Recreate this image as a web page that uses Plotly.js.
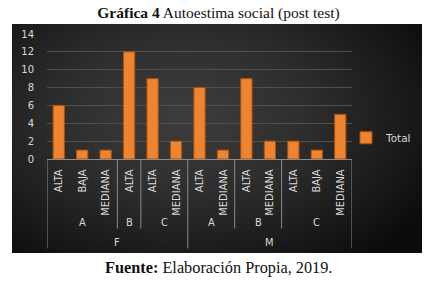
<!DOCTYPE html>
<html><head><meta charset="utf-8">
<script src="https://cdn.plot.ly/plotly-3.0.1.min.js"></script>
<style>
html,body{margin:0;padding:0;background:#fff;}
#wrap{position:relative;width:437px;height:288px;}
#panel{position:absolute;left:12px;top:24px;width:410px;height:229px;
 background:radial-gradient(ellipse 70% 80% at 42% 40%, #3d3d3d 0%, #2f2f2f 40%, #1b1b1b 75%, #0b0b0b 100%);}
#chart{position:absolute;left:0;top:0;width:437px;height:288px;}
</style></head>
<body><div id="wrap"><div id="panel"></div><div id="chart"></div></div>
<script>
const sexo  = ['F','F','F','F','F','F','M','M','M','M','M','M','M'];
const grupo = ['A','A','A','B','C','C','A','A','B','B','C','C','C'];
const nivel = ['ALTA','BAJA','MEDIANA','ALTA','ALTA','MEDIANA','ALTA','MEDIANA','ALTA','MEDIANA','ALTA','BAJA','MEDIANA'];
const total = [6,1,1,12,9,2,8,1,9,2,2,1,5];
const yTicks = [0,2,4,6,8,10,12,14];

const idx = total.map((_,i)=>i);
const txtColor = '#d9d9d9';
const lineColor = '#8a8a8a';
const font = 'Liberation Sans Narrow, DejaVu Sans Condensed, Liberation Sans, sans-serif';

const plotTop = 34, plotBot = 159.3, plotH = plotBot-plotTop;
const py = p => (plotBot - p)/plotH;

function runs(keyFn){
  const out=[]; let s=0;
  for(let i=1;i<=idx.length;i++){
    if(i===idx.length || keyFn(i)!==keyFn(s)){ out.push([s,i-1]); s=i; }
  }
  return out;
}
const g2 = runs(i=>sexo[i]+'|'+grupo[i]);
const g1 = runs(i=>sexo[i]);

const annotations=[], shapes=[];
g2.forEach(([a,b])=>annotations.push({x:(a+b)/2,y:py(223),xref:'x',yref:'paper',text:grupo[a],showarrow:false,font:{family:font,size:11,color:txtColor},yanchor:'middle'}));
g1.forEach(([a,b])=>annotations.push({x:(a+b)/2,y:py(243),xref:'x',yref:'paper',text:sexo[a],showarrow:false,font:{family:font,size:11,color:txtColor},yanchor:'middle'}));
const outerB = new Set([-0.5]); g1.forEach(([a,b])=>outerB.add(b+0.5));
const innerB = new Set(); g2.forEach(([a,b])=>{ if(!outerB.has(b+0.5)) innerB.add(b+0.5); });
outerB.forEach(x=>shapes.push({type:'line',xref:'x',yref:'paper',x0:x,x1:x,y0:0,y1:py(249),line:{color:lineColor,width:1}}));
innerB.forEach(x=>shapes.push({type:'line',xref:'x',yref:'paper',x0:x,x1:x,y0:0,y1:py(229),line:{color:lineColor,width:1}}));

annotations.push({xref:'paper',yref:'paper',x:(218-47)/305,y:py(268),text:'<b>Fuente:</b> Elaboración Propia, 2019.',showarrow:false,yanchor:'middle',xanchor:'center',font:{family:'Liberation Serif, serif',size:16.3,color:'#111'}});

const trace={type:'bar',x:idx,y:total,name:'Total',
  marker:{color:'#ef8430',line:{color:'#a9520f',width:1}},hoverinfo:'skip'};

const layout={
  width:437,height:288,
  margin:{l:47,r:437-352,t:plotTop,b:288-plotBot,autoexpand:false},
  paper_bgcolor:'rgba(0,0,0,0)',plot_bgcolor:'rgba(0,0,0,0)',
  title:{text:'<b>Gráfica 4</b> Autoestima social (post test)',x:0.5,xref:'container',y:1-13/288,yref:'container',yanchor:'middle',xanchor:'center',
    font:{family:'Liberation Serif, serif',size:15.5,color:'#111'}},
  bargap:0.52,
  xaxis:{range:[-0.5,idx.length-0.5],tickmode:'array',tickvals:idx,ticktext:nivel,tickangle:-90,
    showgrid:false,zeroline:false,showline:true,linecolor:lineColor,linewidth:1,ticks:'',ticklabelstandoff:5,
    tickfont:{family:font,size:11,color:txtColor},fixedrange:true},
  yaxis:{range:[0,14],tickmode:'array',tickvals:yTicks,showgrid:true,gridcolor:'#4d5247',gridwidth:1,zeroline:false,
    ticks:'',ticklabelstandoff:12,tickfont:{family:'DejaVu Sans, sans-serif',size:10,color:txtColor},fixedrange:true},
  showlegend:true,
  legend:{x:(346-47)/305,xanchor:'left',y:py(138),yanchor:'middle',bgcolor:'rgba(0,0,0,0)',
    font:{family:'DejaVu Sans, sans-serif',size:10.5,color:txtColor},itemwidth:30},
  annotations,shapes
};
Plotly.newPlot('chart',[trace],layout,{displayModeBar:false,staticPlot:true});
</script></body></html>
